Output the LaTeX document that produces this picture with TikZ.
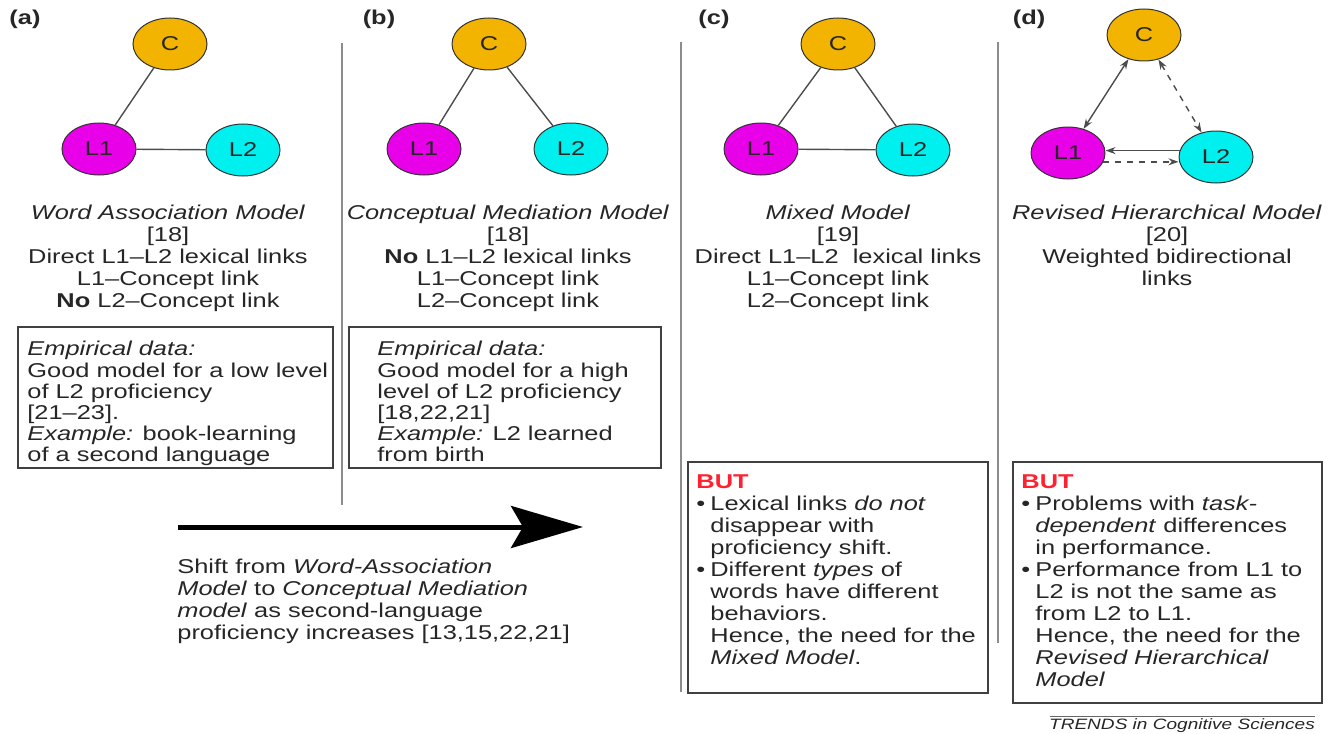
\documentclass[tikz,border=0pt]{standalone}
\usepackage{fontspec}
\setmainfont{Liberation Sans}[FakeStretch=1.27]
\usetikzlibrary{shapes.geometric,arrows.meta}
\definecolor{concept}{HTML}{F2B400}
\definecolor{lone}{HTML}{E800E8}
\definecolor{ltwo}{HTML}{00F0F0}
\definecolor{butred}{HTML}{FF2030}
\newcommand{\itm}{\makebox[7pt][l]{\textbullet}}
\newcommand{\ind}{\hspace*{7pt}}

\begin{document}
\begin{tikzpicture}[x=0.5pt,y=-0.5pt,
  every node/.style={font=\fontsize{10}{11}\selectfont, text=black!85},
  lang/.style={ellipse, draw=black!80, line width=0.5pt, minimum width=37pt, minimum height=26pt, inner sep=0pt},
  link/.style={draw=black!70, line width=0.7pt},
  head/.style={anchor=north, align=center, inner sep=0pt},
  note/.style={anchor=north west, align=left, inner sep=0pt, font=\fontsize{10}{10.6}\selectfont},
  but/.style={anchor=north west, align=left, inner sep=0pt, font=\fontsize{10}{11}\selectfont},
  lab/.style={font=\fontsize{10}{11}\selectfont\bfseries},
  sep/.style={draw=black!45, line width=1pt},
  frame/.style={draw=black!75, line width=0.6pt},
  >={Stealth[length=5pt,width=3.5pt]}]
\useasboundingbox (0,0) rectangle (1337,733);

% (a) word association
\node (labA) at (25,19) [lab] {(a)};
\node (Ca) at (170,44) [lang, fill=concept] {C};
\node (L1a) at (99,149) [lang, fill=lone] {L1};
\node (L2a) at (243,150) [lang, fill=ltwo] {L2};
\draw [link] (Ca) -- (L1a);
\draw [link] (L1a) -- (L2a);
\node (capA) at (168,205) [head] {\textit{Word Association Model}\\ {[18]}\\ Direct L1--L2 lexical links\\ L1--Concept link\\ \textbf{No} L2--Concept link};
\draw [frame] (18,327) rectangle (333,468);
\node (empA) at (27,341) [note] {\textit{Empirical data:}\\ Good model for a low level\\ of L2 proficiency\\ {[21--23]}.\\ \textit{Example:} book-learning\\ of a second language};
\draw [sep] (342,43) -- (342,505);

% (b) conceptual mediation
\node (labB) at (379,19) [lab] {(b)};
\node (Cb) at (489,44) [lang, fill=concept] {C};
\node (L1b) at (424,149) [lang, fill=lone] {L1};
\node (L2b) at (571,149) [lang, fill=ltwo] {L2};
\draw [link] (Cb) -- (L1b);
\draw [link] (Cb) -- (L2b);
\node (capB) at (508,205) [head] {\textit{Conceptual Mediation Model}\\ {[18]}\\ \textbf{No} L1--L2 lexical links\\ L1--Concept link\\ L2--Concept link};
\draw [frame] (349,327) rectangle (661,468);
\node (empB) at (377,341) [note] {\textit{Empirical data:}\\ Good model for a high\\ level of L2 proficiency\\ {[18,22,21]}\\ \textit{Example:} L2 learned\\ from birth};
\draw [sep] (681,42) -- (681,692);

% shift arrow
\coordinate (shiftA) at (178,527);
\coordinate (shiftB) at (583,527);
\draw [line width=2.5pt, -{Stealth[length=36pt,width=21pt,inset=6pt]}] (shiftA) -- (shiftB);
\node (shiftTxt) at (177,559) [but] {Shift from \textit{Word-Association}\\ \textit{Model} to \textit{Conceptual Mediation}\\ \textit{model} as second-language\\ proficiency increases [13,15,22,21]};

% (c) mixed
\node (labC) at (714,19) [lab] {(c)};
\node (Cc) at (838,44) [lang, fill=concept] {C};
\node (L1c) at (761,149) [lang, fill=lone] {L1};
\node (L2c) at (913,150) [lang, fill=ltwo] {L2};
\draw [link] (Cc) -- (L1c);
\draw [link] (Cc) -- (L2c);
\draw [link] (L1c) -- (L2c);
\node (capC) at (838,205) [head] {\textit{Mixed Model}\\ {[19]}\\ Direct L1--L2\ \ lexical links\\ L1--Concept link\\ L2--Concept link};
\draw [frame] (688,462) rectangle (988,693);
\node (butC) at (696,474) [but] {\textcolor{butred}{\textbf{BUT}}\\ \itm Lexical links \textit{do not}\\ \ind disappear with\\ \ind proficiency shift.\\ \itm Different \textit{types} of\\ \ind words have different\\ \ind behaviors.\\ \ind Hence, the need for the\\ \ind\textit{Mixed Model}.};
\draw [sep] (998,42) -- (998,643);

% (d) revised hierarchical
\node (labD) at (1029,19) [lab] {(d)};
\node (Cd) at (1144,35) [lang, fill=concept] {C};
\node (L1d) at (1068,153) [lang, fill=lone] {L1};
\node (L2d) at (1216,157) [lang, fill=ltwo] {L2};
\draw [link, <->] (Cd) -- (L1d);
\draw [link, dashed, <->] (Cd) -- (L2d);
\draw [link, ->] (L2d.170) -- (L2d.170 -| L1d.east);
\draw [link, dashed, ->] (L1d.-14) -- (L1d.-14 -| L2d.west);
\node (capD) at (1167,205) [head] {\textit{Revised Hierarchical Model}\\ {[20]}\\ Weighted bidirectional\\ links};
\draw [frame] (1013,462) rectangle (1322,703);
\node (butD) at (1021,474) [but] {\textcolor{butred}{\textbf{BUT}}\\ \itm Problems with \textit{task-}\\ \ind\textit{dependent} differences\\ \ind in performance.\\ \itm Performance from L1 to\\ \ind L2 is not the same as\\ \ind from L2 to L1.\\ \ind Hence, the need for the\\ \ind\textit{Revised Hierarchical}\\ \ind\textit{Model}};

\draw [draw=black!60, line width=0.4pt] (1050,716) -- (1315,716);
\node (trends) at (1182,726) [font=\fontsize{7.5}{8}\selectfont\itshape] {TRENDS in Cognitive Sciences};
\end{tikzpicture}
\end{document}
